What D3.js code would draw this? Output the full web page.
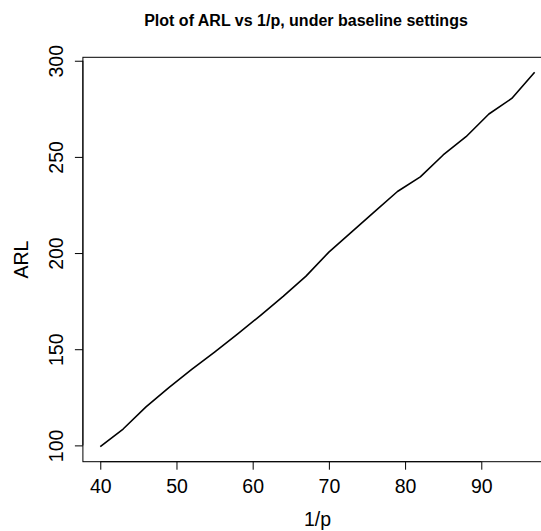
<!DOCTYPE html>
<html>
<head>
<meta charset="utf-8">
<script src="https://cdn.jsdelivr.net/npm/d3@7"></script>
<style>
  body { margin: 0; background: #fff; }
  text { font-family: "Liberation Sans", Arial, sans-serif; fill: #000; }
</style>
</head>
<body>
<div id="chart"></div>
<script>
// valeurs
const invP = [40, 43, 46, 49, 52, 55, 58, 61, 64, 67, 70, 73, 76, 79, 82, 85, 88, 91, 94, 97];
const arl = [99.3, 108.5, 120, 130, 139.5, 148.5, 157.8, 167.5, 177.5, 188, 200.5, 211, 221.5, 232, 239.6, 251, 260.5, 272.3, 280.4, 294];
const xTicks = [40, 50, 60, 70, 80, 90];
const yTicks = [100, 150, 200, 250, 300];

const width = 541;
const height = 531;
const mLeft = 82.9, mRight = 552, mTop = 57.3, mBottom = 461.7;

// étendre de 4% comme R
const pad = (ext) => { const d = (ext[1] - ext[0]) * 0.04; return [ext[0] - d, ext[1] + d]; };

const x = d3.scaleLinear().domain(pad(d3.extent(invP))).range([mLeft, mRight]);
const y = d3.scaleLinear().domain(pad(d3.extent(arl))).range([mBottom, mTop]);

const svg = d3.select("#chart").append("svg")
  .attr("width", width)
  .attr("height", height);

// cadre
svg.append("rect")
  .attr("x", mLeft)
  .attr("y", mTop)
  .attr("width", mRight - mLeft)
  .attr("height", mBottom - mTop)
  .attr("fill", "none")
  .attr("stroke", "#000")
  .attr("stroke-width", 1);

const xAxis = svg.append("g")
  .attr("transform", `translate(0,${mBottom})`)
  .call(d3.axisBottom(x).tickValues(xTicks).tickSize(8).tickSizeOuter(0));
xAxis.select(".domain").attr("d", `M${x(xTicks[0])},0H${x(xTicks[xTicks.length - 1])}`);
xAxis.selectAll(".tick text")
  .attr("y", 493 - mBottom)
  .attr("dy", null)
  .style("font-size", "19.5px");

const yAxis = svg.append("g")
  .attr("transform", `translate(${mLeft},0)`)
  .call(d3.axisLeft(y).tickValues(yTicks).tickSize(8).tickSizeOuter(0));
yAxis.select(".domain").attr("d", `M0,${y(yTicks[0])}V${y(yTicks[yTicks.length - 1])}`);
yAxis.selectAll(".tick text")
  .attr("x", null).attr("dy", null)
  .attr("transform", "translate(-19.6,0) rotate(-90)")
  .attr("text-anchor", "middle")
  .style("font-size", "19.5px");

svg.append("path")
  .datum(invP.map((v, i) => [v, arl[i]]))
  .attr("fill", "none")
  .attr("stroke", "#000")
  .attr("stroke-width", 1.6)
  .attr("stroke-linejoin", "round")
  .attr("d", d3.line().x(d => x(d[0])).y(d => y(d[1])));

svg.append("text")
  .attr("x", 306)
  .attr("y", 26)
  .attr("text-anchor", "middle")
  .style("font-size", "16px")
  .style("font-weight", "bold")
  .text("Plot of ARL vs 1/p, under baseline settings");

svg.append("text")
  .attr("x", (mLeft + mRight) / 2)
  .attr("y", 526)
  .attr("text-anchor", "middle")
  .style("font-size", "19.5px")
  .text("1/p");

svg.append("text")
  .attr("transform", `translate(28.3,${(mTop + mBottom) / 2}) rotate(-90)`)
  .attr("text-anchor", "middle")
  .style("font-size", "19.5px")
  .text("ARL");
</script>
</body>
</html>
